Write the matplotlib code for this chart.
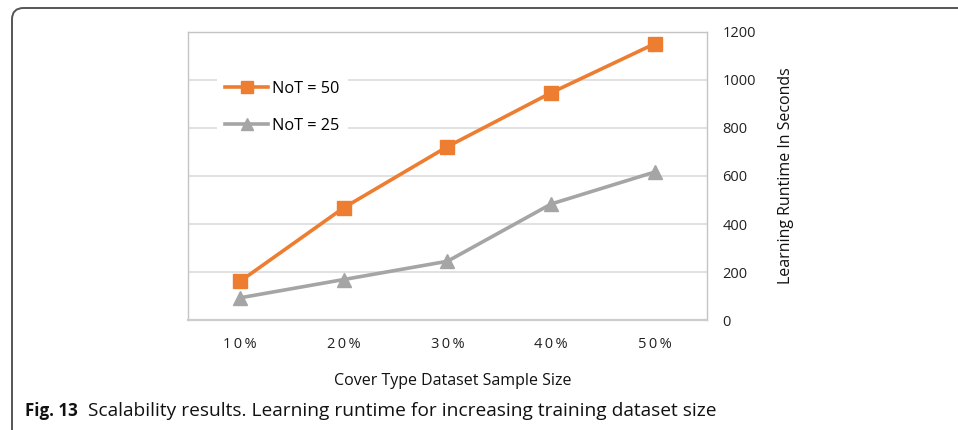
import matplotlib.pyplot as plt
from matplotlib.patches import FancyBboxPatch

plt.rcParams['font.family'] = ['Open Sans', 'DejaVu Sans']

# sample size categories and runtimes (seconds)
sizes = ['10%', '20%', '30%', '40%', '50%']
not50 = [162, 468, 722, 946, 1150]
not25 = [94, 170, 246, 484, 617]
yticks = [0, 200, 400, 600, 800, 1000, 1200]

orange = '#ed7d31'
grey = '#a5a5a5'

fig = plt.figure(figsize=(9.58, 4.3), dpi=100)
ax = fig.add_axes([0.1962, 0.2547, 0.5418, 0.672])

x = range(len(sizes))
ax.plot(x, not50, color=orange, lw=2.6, marker='s', ms=9.5, label='NoT = 50')
ax.plot(x, not25, color=grey, lw=2.6, marker='^', ms=10, label='NoT = 25')

ax.set_xlim(-0.5, len(sizes) - 0.5)
ax.set_ylim(0, 1200)
ax.set_yticks(yticks)
ax.yaxis.tick_right()
ax.yaxis.set_label_position('right')
ax.grid(axis='y', color='#d9d9d9', lw=1.1)
ax.set_axisbelow(True)
ax.tick_params(length=0)
ax.tick_params(axis='y', pad=11, labelsize=10.5, labelcolor='#222222')
ax.tick_params(axis='x', pad=12, labelsize=10.5, labelcolor='#222222')
ax.set_xticks(list(x))
# letter-spaced category labels
ax.set_xticklabels(['\u2009'.join(s) for s in sizes])
for side in ['left', 'right', 'top']:
    ax.spines[side].set_color('#c4c4c4')
    ax.spines[side].set_linewidth(1)
ax.spines['bottom'].set_color('#cccccc')
ax.spines['bottom'].set_linewidth(1.6)

ax.set_ylabel('Learning Runtime In Seconds', fontsize=11.5, labelpad=16, color='#111111')

leg = ax.legend(loc='upper left', bbox_to_anchor=(0.04, 0.885), fontsize=11.7,
                frameon=True, facecolor='white', edgecolor='none', framealpha=1,
                handlelength=2.65, handletextpad=0.25, labelspacing=1.3,
                borderpad=0.5, fancybox=False, markerscale=0.85)

fig.text(0.473, 0.115, 'Cover Type Dataset Sample Size', ha='center', va='center',
         fontsize=11.5, color='#111111')

fig.text(25 / 958, 0.044, 'Fig. 13', fontweight='bold', fontsize=12.2, va='center',
         color='#111111')
fig.text(88 / 958, 0.044, 'Scalability results. Learning runtime for increasing training dataset size',
         fontsize=13.8, va='center', color='#111111')

# outer frame, only top and left edges fall inside the figure
frame = FancyBboxPatch((12 / 958, -0.2), 1.2, 1.2 - 8 / 430,
                       boxstyle='round,pad=0,rounding_size=0.012',
                       transform=fig.transFigure, fill=False,
                       edgecolor='#555555', lw=1.4, mutation_aspect=958 / 430)
fig.add_artist(frame)

fig.savefig('out.png', dpi=100)
